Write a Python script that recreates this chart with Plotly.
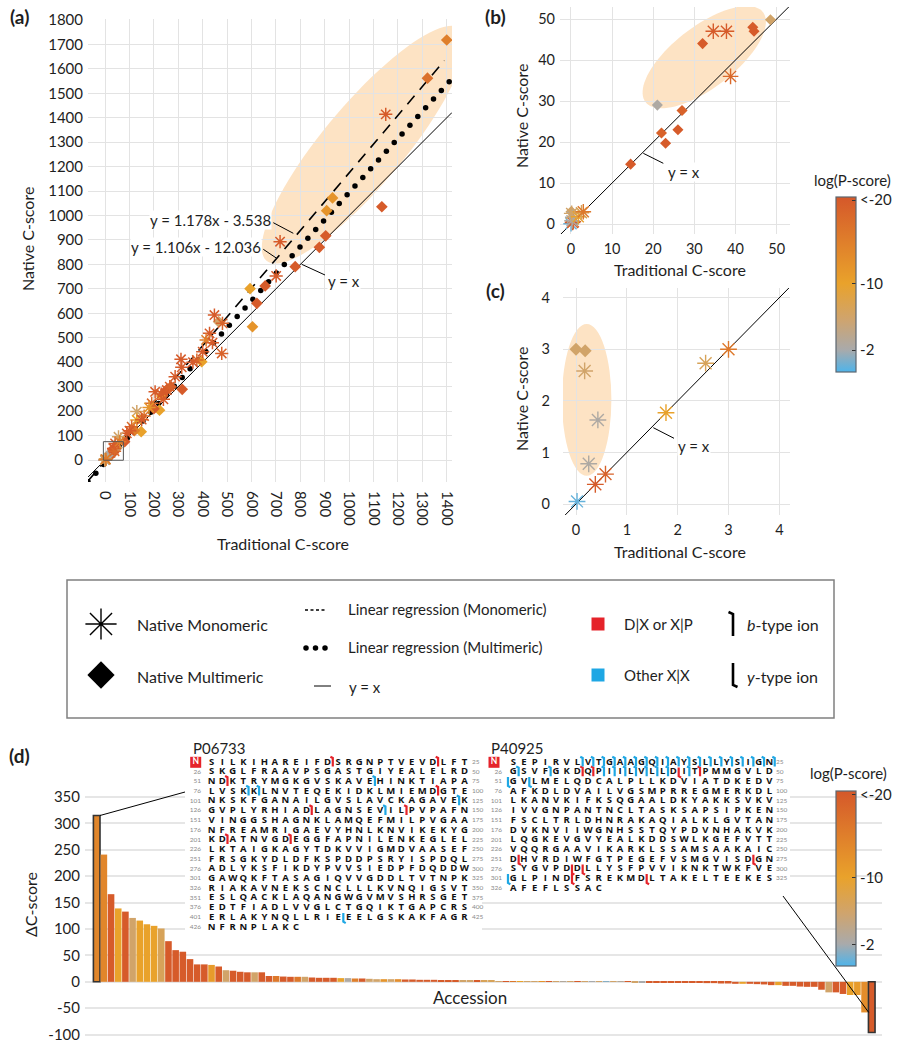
import numpy as np
import plotly.graph_objects as go

W, H = 905, 1050
FONT = "Lato"
INK = "#1e1e1e"
GRID = "#e3e3e3"
PEACH = "#fde3c4"
RED = "#e5232a"
BLUE = "#1ea7e4"

# ================= DATA =================
# Panels (a)-(c): Traditional vs Native C-score, colour = log(P-score)
mono_x = [0.02, 0.38, 0.58, 0.25, 0.43, 0.17, 1.77, 2.55, 3.0,
          34.6, 37.8, 38.8,
          1150, 717, 701, 448, 481, 478, 428, 414, 400, 376,
          311, 314, 287, 253, 239, 205, 191, 130, 130, 109,
          89, 55, 41, 160, 265, 60, 100, 150, 180, 360, 440, 230]
mono_y = [0.05, 0.38, 0.58, 0.78, 1.63, 2.58, 1.77, 2.73, 3.0,
          47, 47, 36,
          1414, 893, 753, 593, 559, 436, 518, 491, 443, 409,
          412, 379, 341, 286, 248, 279, 232, 198, 164, 136,
          109, 95, 68, 180, 300, 75, 120, 165, 215, 400, 480, 270]
mono_logp = [0, -20, -19, -2.5, -2.5, -6, -10, -7, -16,
             -20, -20, -18,
             -20, -20, -20, -20, -19, -19, -20, -15, -20, -18,
             -20, -20, -20, -20, -20, -20, -18, -6, -10, -18,
             -20, -6, -20, -17, -19, -15, -20, -20, -12, -20, -20, -20]

multi_x = [0.0, 0.18,
           14.5, 22, 23, 26, 27, 21, 32, 44.2, 44.5, 48.5,
           1400, 1321, 1134, 932, 908, 904, 878, 779, 656, 594,
           622, 604, 465, 396, 316, 232, 223, 148, 250, 270,
           80, 120, 200]
multi_y = [3.0, 2.97,
           14.6, 22.2, 19.7, 23, 27.7, 29, 44, 48, 47, 49.8,
           1718, 1562, 1036, 1072, 1020, 917, 870, 791, 712, 701,
           641, 545, 566, 402, 289, 262, 204, 116, 285, 300,
           75, 120, 210]
multi_logp = [-6, -6,
              -20, -19, -20, -20, -19, -2.5, -20, -20, -20, -6,
              -15, -17, -20, -12, -12, -20, -20, -20, -20, -10,
              -20, -12, -6, -10, -20, -11, -10, -10, -20, -20,
              -20, -15, -20]

reg_mono = (1.178, -3.538)     # y = 1.178x - 3.538
reg_multi = (1.106, -12.036)   # y = 1.106x - 12.036

# Panel (d): Delta C-score per accession
bar_delta = [315, 241, 166, 139, 133, 121, 116, 109, 106, 101,
             77, 60, 57, 43, 33, 33, 32, 29, 22, 21,
             19, 18, 18, 18, 11, 11, 10, 9.5, 9.5, 9.5,
             8.2, 7.6, 7.6, 7.6, 7, 7, 6.3, 6.3, 5.7, 5,
             5, 5, 5, 4.4, 4.4, 3.8, 3.8, 3.8, 3.2, 3.2,
             2.5, 2.5, 1.9, 1.9, 1.9, 1.9, 1.5, 1.4, 1.3, 1.2,
             1.1, 1.0, 0.9, 0.8, 0.7, 0.6, 0.5, 0.4, 0.3, 0.3,
             0.2, 0.1, -0.1, -0.2, -0.3, -0.4, -0.5, -0.6, -0.7, -0.8,
             -0.9, -1.0, -1.1, -1.3, -2.0, -2.5, -2.5, -3.2, -3.2, -3.8,
             -3.8, -3.8, -4.4, -5, -6.3, -6.3, -7.6, -7.6, -9, -9.5,
             -9.5, -15, -20, -20, -23, -25, -25, -58, -96]
bar_logp = [-14, -14, -20, -10, -20, -6, -10, -10, -10, -7,
            -20, -20, -20, -20, -20, -20, -11, -20, -6, -20,
            -20, -20, -6, -20, -20, -16, -20, -20, -16, -6,
            -20, -20, -20, -20, -10, -2.5, -15, -20, -6, -6,
            -12, -6, -13, -20, -20, -20, -20, -20, -20, -20,
            -20, -6, -6, -20, -7, -7, -6, -20, -16, -10,
            -6, -6, -12, -20, -6, -3, -6, -20, -6, -2,
            -6, -1, -6, -3, -20, -6, -2, -20, -20, -20,
            -20, -20, -20, -20, -20, -20, -20, -20, -20, -20,
            -10, -20, -20, -20, -20, -10, -20, -20, -20, -20,
            -20, -20, -6, -20, -20, -10, -11, -13, -20]

seq_P06733 = ("SILKIHAREIFDSRGNPTVEVDLFT" "SKGLFRAAVPSGASTGIYEALELRD"
              "NDKTRYMGKGVSKAVEHINKTIAPA" "LVSKKLNVTEQEKIDKLMIEMDGTE"
              "NKSKFGANAILGVSLAVCKAGAVEK" "GVPLYRHIADLAGNSEVILPVPAFN"
              "VINGGSHAGNKLAMQEFMILPVGAA" "NFREAMRIGAEVYHNLKNVIKEKYG"
              "KDATNVGDEGGFAPNILENKEGLEL" "LKTAIGKAGYTDKVVIGMDVAASEF"
              "FRSGKYDLDFKSPDDPSRYISPDQL" "ADLYKSFIKDYPVVSIEDPFDQDDW"
              "GAWQKFTASAGIQVVGDDLTVTNPK" "RIAKAVNEKSCNCLLLKVNQIGSVT"
              "ESLQACKLAQANGWGVMVSHRSGET" "EDTFIADLVVGLCTGQIKTGAPCRS"
              "ERLAKYNQLLRIEEELGSKAKFAGR" "NFRNPLAKC")
seq_P40925 = ("SEPIRVLVTGAAGQIAYSLLYSIGN" "GSVFGKDQPIILVLLDITPMMGVLD"
              "GVLMELQDCALPLLKDVIATDKEDV" "AFKDLDVAILVGSMPRREGMERKDL"
              "LKANVKIFKSQGAALDKYAKKSVKV" "IVVGNPANTNCLTASKSAPSIPKEN"
              "FSCLTRLDHNRAKAQIALKLGVTAN" "DVKNVIIWGNHSSTQYPDVNHAKVK"
              "LQGKEVGVYEALKDDSWLKGEFVTT" "VQQRGAAVIKARKLSSAMSAAKAIC"
              "DHVRDIWFGTPEGEFVSMGVISDGN" "SYGVPDDLLYSFPVVIKNKTWKFVE"
              "GLPINDFSREKMDLTAKELTEEKES" "AFEFLSSAC")
# cleavage after residue k: (k, class 'r' = D|X or X|P / 'o' = other X|X, ion type)
marks_P06733 = [(12, 'r', 'b'), (22, 'r', 'b'), (52, 'r', 'b'), (66, 'o', 'b'),
                (79, 'o', 'b'), (80, 'o', 'b'), (97, 'r', 'b'), (124, 'o', 'b'),
                (135, 'r', 'b'), (142, 'o', 'b'), (144, 'r', 'b'), (202, 'r', 'b'),
                (208, 'r', 'b'), (413, 'o', 'y')]
marks_P40925 = ([(k, 'o', 'b') for k in [7, 8, 9, 10, 11, 12, 13, 14, 15, 16, 17, 18,
                                          19, 20, 21, 22, 23, 24, 25]] +
                [(26, 'o', 'b'), (29, 'o', 'b'), (32, 'r', 'b'), (33, 'r', 'b'),
                 (34, 'o', 'b'), (35, 'o', 'b'), (36, 'o', 'b'), (37, 'o', 'b'),
                 (38, 'o', 'b'), (39, 'o', 'b'), (40, 'o', 'b'), (41, 'r', 'y'),
                 (42, 'o', 'b'), (43, 'r', 'b'), (50, 'o', 'y'), (52, 'o', 'y'),
                 (251, 'r', 'y'), (273, 'r', 'y'), (281, 'r', 'y'), (282, 'r', 'y'),
                 (300, 'o', 'y'), (306, 'r', 'y'), (313, 'r', 'y')])

# ================= COLOUR SCALE =================
CMIN, CMAX = -0.64, 20.36          # in -log(P) units
CSCALE = [(0.0, "#4fb4ea"), (0.126, "#a9aaab"), (0.30, "#cfa46e"),
          (0.507, "#e9a22b"), (0.75, "#df7e2b"), (1.0, "#d5582a")]


def _rgb(h):
    return np.array([int(h[i:i + 2], 16) for i in (1, 3, 5)], float)


def color_of(logp):
    t = (-logp - CMIN) / (CMAX - CMIN)
    t = min(max(t, 0), 1)
    for (t0, c0), (t1, c1) in zip(CSCALE[:-1], CSCALE[1:]):
        if t <= t1:
            f = (t - t0) / (t1 - t0) if t1 > t0 else 0
            c = _rgb(c0) * (1 - f) + _rgb(c1) * f
            return "rgb(%d,%d,%d)" % tuple(np.round(c))
    return CSCALE[-1][1]


def ellipse_path(cx, cy, a, b, ang, n=90):
    t = np.linspace(0, 2 * np.pi, n, endpoint=False)
    th = np.radians(ang)
    xs = cx + a * np.cos(t) * np.cos(th) - b * np.sin(t) * np.sin(th)
    ys = cy + a * np.cos(t) * np.sin(th) + b * np.sin(t) * np.cos(th)
    return "M " + " L ".join("%.3f,%.3f" % (x, y) for x, y in zip(xs, ys)) + " Z"


def xd(p0, p1):
    return [p0 / W, p1 / W]


def yd(top, bot):
    return [1 - bot / H, 1 - top / H]


fig = go.Figure()
OV = dict(xaxis="x5", yaxis="y5")

# ================= PANELS a, b, c =================
A_XR, A_YR = [-70, 1421.5], [-90, 1804]
B_XR, B_YR = [-2.67, 53.25], [-2.44, 52.93]
C_XR, C_YR = [-0.256, 4.21], [-0.213, 4.188]

panels = [("", A_XR, 11, 9, 1.5), ("2", B_XR, 13, 8.5, 1.4), ("3", C_XR, 14, 10, 1.4)]
mono_cols = [color_of(v) for v in mono_logp]
multi_cols = [color_of(v) for v in multi_logp]
for ax, xr, ssz, dsz, slw in panels:
    ref = dict(xaxis="x" + ax, yaxis="y" + ax)
    fig.add_trace(go.Scatter(x=xr, y=xr, mode="lines", line=dict(color="black", width=1),
                             hoverinfo="skip", **ref))
    if ax == "":
        xm = [A_XR[0], 1390]
        fig.add_trace(go.Scatter(x=xm, y=[reg_mono[0] * v + reg_mono[1] for v in xm],
                                 mode="lines", line=dict(color="black", width=1.6, dash="11px,8px"),
                                 hoverinfo="skip", **ref))
        xd_ = np.linspace(A_XR[0], 1410, 47)
        fig.add_trace(go.Scatter(x=xd_, y=reg_multi[0] * xd_ + reg_multi[1], mode="markers",
                                 marker=dict(color="black", size=5.5), hoverinfo="skip", **ref))
    fig.add_trace(go.Scatter(x=multi_x, y=multi_y, mode="markers",
                             marker=dict(symbol="diamond", size=dsz, color=multi_cols,
                                         line=dict(width=0)), **ref))
    fig.add_trace(go.Scatter(x=mono_x, y=mono_y, mode="markers",
                             marker=dict(symbol="asterisk-open", size=ssz, color=mono_cols,
                                         line=dict(width=slw, color=mono_cols)), **ref))

# ================= PANEL d =================
bar_idx = list(range(1, len(bar_delta) + 1))
lw = [0.0] * len(bar_delta)
lw[0] = lw[-1] = 1.6
fig.add_trace(go.Bar(x=bar_idx, y=bar_delta, marker=dict(color=[color_of(v) for v in bar_logp],
                                                         line=dict(color="#333333", width=lw)),
                     xaxis="x4", yaxis="y4"))

D_XD, D_XR = (85, 882), [-0.63, 110.43]
D_YD, D_YR = (785, 1042), [-114, 372.8]


def dpx(v):
    return D_XD[0] + (v - D_XR[0]) / (D_XR[1] - D_XR[0]) * (D_XD[1] - D_XD[0])


def dpy(v):
    return D_YD[1] - (v - D_YR[0]) / (D_YR[1] - D_YR[0]) * (D_YD[1] - D_YD[0])


# ---- overlay (pixel coordinates) ----
for (x0, y0, x1, y1) in [(185, 738, 482, 935), (482, 738, 790, 897)]:
    fig.add_trace(go.Scatter(x=[x0, x1, x1, x0, x0], y=[y0, y0, y1, y1, y0], mode="lines",
                             fill="toself", fillcolor="white", line=dict(width=0),
                             hoverinfo="skip", **OV))

fig.add_trace(go.Scatter(x=[dpx(bar_idx[0] + 0.46), 185], y=[dpy(bar_delta[0]), 792],
                         mode="lines", line=dict(color="black", width=1), **OV))
fig.add_trace(go.Scatter(x=[783, dpx(bar_idx[-1] - 0.42)], y=[896, dpy(-58)],
                         mode="lines", line=dict(color="black", width=1), **OV))

ann = []


def T(x, y, text, size=15, anchor="center", angle=0, bold=False, bg=None):
    d = dict(x=x / W, y=1 - y / H, text=text, showarrow=False, xanchor=anchor, yanchor="middle",
             xref="paper", yref="paper", textangle=angle,
             font=dict(family=FONT, size=size, color=INK, weight="bold" if bold else "normal"))
    if bg:
        d.update(bgcolor=bg, borderpad=0)
    ann.append(d)


def draw_seq(seq, marks, x0, step, y0, dy, lab_x, end_x, nbox_x, title, title_x):
    n = len(seq)
    xs = [x0 + (i % 25) * step for i in range(n)]
    ys = [y0 + (i // 25) * dy for i in range(n)]
    fig.add_trace(go.Scatter(x=xs, y=ys, mode="text", text=list(seq), textposition="middle center",
                             textfont=dict(family="Open Sans", size=9.5, color="#111", weight="bold"),
                             hoverinfo="skip", **OV))
    nrows = (n + 24) // 25
    fig.add_trace(go.Scatter(x=[lab_x] * (nrows - 1), y=[y0 + r * dy for r in range(1, nrows)],
                             mode="text", text=[str(25 * r + 1) for r in range(1, nrows)],
                             textposition="middle left",
                             textfont=dict(family=FONT, size=6.5, color="#8a8a8a"), **OV))
    full = n // 25
    fig.add_trace(go.Scatter(x=[end_x] * full, y=[y0 + r * dy for r in range(full)],
                             mode="text", text=[str(25 * (r + 1)) for r in range(full)],
                             textposition="middle right",
                             textfont=dict(family=FONT, size=6.5, color="#8a8a8a"), **OV))
    fig.add_trace(go.Scatter(x=[nbox_x], y=[y0], mode="markers+text", text=["N"],
                             textposition="middle center",
                             marker=dict(symbol="square", size=11, color=RED),
                             textfont=dict(family=FONT, size=8.5, color="white", weight="bold"),
                             **OV))
    for cls, col in (("r", RED), ("o", BLUE)):
        mx, my = [], []
        for k, c, ion in marks:
            if c != cls:
                continue
            if ion == "y" and k % 25 == 0:
                r, cpos = k // 25, -0.5
            else:
                r, cpos = (k - 1) // 25, (k - 1) % 25 + 0.5
            x = x0 + cpos * step
            yc = y0 + r * dy
            if ion == "b":
                mx += [x - 2.4, x, x, None]
                my += [yc - 5.6, yc - 4.4, yc + 4.2, None]
            else:
                mx += [x, x, x + 2.4, None]
                my += [yc - 4.6, yc + 4.2, yc + 5.6, None]
        fig.add_trace(go.Scatter(x=mx, y=my, mode="lines", line=dict(color=col, width=2.2),
                                 hoverinfo="skip", **OV))
    T(title_x, 748, title, 15, "left")


draw_seq(seq_P06733, marks_P06733, 211.7, 10.53, 762.3, 9.7, 201, 472, 195.7, "P06733", 191)
draw_seq(seq_P40925, marks_P40925, 513.3, 10.67, 762.3, 9.7, 502, 776, 494, "P40925", 489)

# ---- legend contents ----
fig.add_trace(go.Scatter(x=[101], y=[624], mode="markers",
                         marker=dict(symbol="asterisk-open", size=26, color="black",
                                     line=dict(width=1.4, color="black")), **OV))
fig.add_trace(go.Scatter(x=[101], y=[675], mode="markers",
                         marker=dict(symbol="diamond", size=21, color="black"), **OV))
fig.add_trace(go.Scatter(x=[305, 325], y=[610, 610], mode="lines",
                         line=dict(color="black", width=1.5, dash="3px,2.5px"), **OV))
fig.add_trace(go.Scatter(x=[306, 315.5, 325], y=[648, 648, 648], mode="markers",
                         marker=dict(color="black", size=5.5), **OV))
fig.add_trace(go.Scatter(x=[314, 331], y=[686, 686], mode="lines",
                         line=dict(color="black", width=1), **OV))
fig.add_trace(go.Scatter(x=[598, 598], y=[624, 675], mode="markers",
                         marker=dict(symbol="square", size=13, color=[RED, BLUE]), **OV))
fig.add_trace(go.Scatter(x=[728.5, 733, 733, None, 733, 733, 737.5],
                         y=[612, 614, 636, None, 663, 685, 687], mode="lines",
                         line=dict(color="black", width=2.6), **OV))

# ---- colour bars ----
for yc in (284.5, 878.8):
    fig.add_trace(go.Scatter(
        x=[None, None], y=[None, None], mode="markers", **OV,
        marker=dict(color=[CMIN, CMAX], cmin=CMIN, cmax=CMAX,
                    colorscale=[[t, c] for t, c in CSCALE], showscale=True,
                    colorbar=dict(x=836 / W, xanchor="left", y=1 - yc / H, yanchor="middle",
                                  len=175, lenmode="pixels", thickness=20, thicknessmode="pixels",
                                  xpad=0, ypad=0, outlinewidth=1.2, outlinecolor="#5d6770",
                                  tickvals=[20, 10, 2], ticktext=["&lt;-20", "-10", "-2"],
                                  ticks="inside", ticklen=4, tickcolor="#333",
                                  tickfont=dict(family=FONT, size=15, color=INK)))))

# ================= SHAPES =================
shapes = [
    dict(type="path", path=ellipse_path(1060, 1290, 620, 165, 50), xref="x", yref="y",
         fillcolor=PEACH, line=dict(width=0), layer="below"),
    dict(type="path", path=ellipse_path(32.4, 40.7, 18, 7.5, 37.5), xref="x2", yref="y2",
         fillcolor=PEACH, line=dict(width=0), layer="below"),
    dict(type="circle", x0=-0.276, x1=0.696, y0=0.55, y1=3.49, xref="x3", yref="y3",
         fillcolor=PEACH, line=dict(width=0), layer="below"),
    dict(type="rect", x0=-7, x1=75, y0=-1, y1=75, xref="x", yref="y",
         line=dict(color="#555", width=1)),
    dict(type="rect", x0=67, x1=834, y0=580, y1=718, xref="x5", yref="y5",
         line=dict(color="#808080", width=1.5)),
]
for (x0, y0, x1, y1) in [(273.3, 222.7, 293.3, 233.3), (263.3, 249.3, 276.7, 258.3),
                         (301.7, 264.3, 325, 275), (643.3, 153.3, 663.3, 163.3),
                         (653.3, 427.7, 674, 438.3)]:
    shapes.append(dict(type="line", x0=x0, y0=y0, x1=x1, y1=y1, xref="x5", yref="y5",
                       line=dict(color="black", width=1)))

# ================= ANNOTATIONS =================
T(19, 16, "(a)", 19, bold=True)
T(496, 16, "(b)", 19, bold=True)
T(495, 290, "(c)", 19, bold=True)
T(19, 755, "(d)", 19, bold=True)
T(27, 239, "Native C-score", 16, angle=-90)
T(283, 543, "Traditional C-score", 16)
T(521, 116, "Native C-score", 16, angle=-90)
T(680, 269, "Traditional C-score", 16)
T(521, 399, "Native C-score", 16, angle=-90)
T(680, 551, "Traditional C-score", 16)
T(30, 905, "ΔC-score", 16, angle=-90)
T(470, 997, "Accession", 17)
T(852, 180, "log(P-score)", 15)
T(848, 773, "log(P-score)", 15)
T(210.5, 219.5, "y = 1.178x - 3.538", 15, bg="white")
T(196, 247, "y = 1.106x - 12.036", 15, bg="white")
T(344, 281, "y = x", 15, bg="white")
T(684, 172, "y = x", 15, bg="white")
T(694, 446, "y = x", 15, bg="white")
T(135, 624, "Native Monomeric", 16, "left")
T(135, 676, "Native Multimeric", 16, "left")
T(346, 609, "Linear regression (Monomeric)", 15, "left")
T(346, 647, "Linear regression (Multimeric)", 15, "left")
T(347, 687, "y = x", 15, "left")
T(622, 624, "D|X or X|P", 15, "left")
T(622, 675, "Other X|X", 15, "left")
T(745, 624, "<i>b</i>-type ion", 16, "left")
T(745, 676, "<i>y</i>-type ion", 16, "left")

# ================= AXES =================
TF = dict(family=FONT, size=15, color=INK)
base = dict(showgrid=True, gridcolor=GRID, gridwidth=1.3, zeroline=False, showline=False,
            ticks="", tickfont=TF, fixedrange=True, automargin=False)

fig.update_layout(
    template="none",
    width=W, height=H, margin=dict(l=0, r=0, t=0, b=0, pad=0, autoexpand=False),
    paper_bgcolor="white", plot_bgcolor="rgba(0,0,0,0)", showlegend=False,
    font=dict(family=FONT, color=INK),
    xaxis=dict(base, anchor="y", domain=xd(88, 452), range=A_XR,
               tickvals=list(range(0, 1401, 100)), tickangle=90, ticklabelstandoff=8),
    yaxis=dict(base, anchor="x", domain=yd(19, 482), range=A_YR,
               tickvals=list(range(0, 1801, 100)), ticklabelstandoff=4),
    xaxis2=dict(base, anchor="y2", domain=xd(560, 790), range=B_XR,
                tickvals=list(range(0, 51, 10)), tickfont=dict(TF, size=14.5), ticklabelstandoff=4),
    yaxis2=dict(base, anchor="x2", domain=yd(7, 234), range=B_YR,
                tickvals=list(range(0, 51, 10)), tickfont=dict(TF, size=14.5), ticklabelstandoff=4),
    xaxis3=dict(base, anchor="y3", domain=xd(563, 790), range=C_XR, tickvals=[0, 1, 2, 3, 4],
                tickfont=dict(TF, size=14.5), ticklabelstandoff=4),
    yaxis3=dict(base, anchor="x3", domain=yd(288, 515), range=C_YR, tickvals=[0, 1, 2, 3, 4],
                tickfont=dict(TF, size=14.5), ticklabelstandoff=12),
    xaxis4=dict(base, anchor="y4", domain=xd(*D_XD), range=D_XR, showgrid=False,
                showticklabels=False),
    yaxis4=dict(base, anchor="x4", domain=yd(*D_YD), range=D_YR,
                tickvals=list(range(-100, 351, 50)),
                ticktext=[str(v) for v in range(-100, 351, 50)], ticklabelstandoff=4,
                gridcolor="#e6e6e6", gridwidth=1.6),
    xaxis5=dict(anchor="y5", domain=[0, 1], range=[0, W], visible=False, fixedrange=True),
    yaxis5=dict(anchor="x5", domain=[0, 1], range=[H, 0], visible=False, fixedrange=True),
    bargap=0.08,
    shapes=shapes,
    annotations=ann,
)

fig.write_html("out.html", config={"displayModeBar": False},
               post_script="document.body.style.margin='0px';")
